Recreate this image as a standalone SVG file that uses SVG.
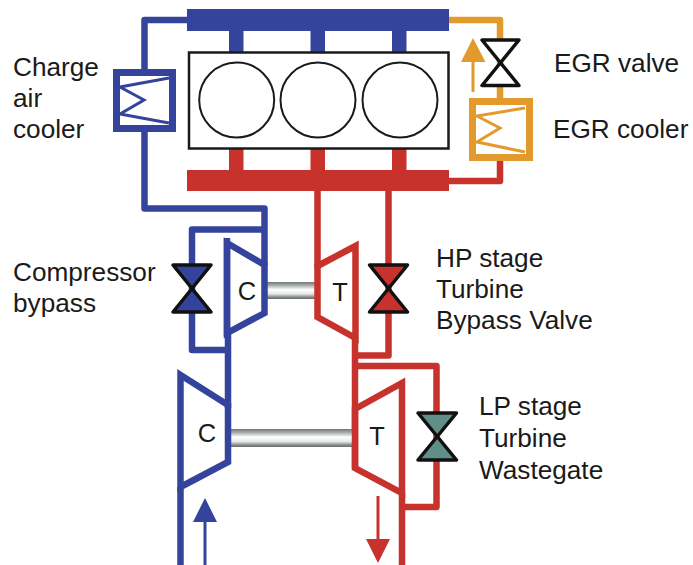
<svg xmlns="http://www.w3.org/2000/svg" width="693" height="565" viewBox="0 0 693 565">
<style>
.l{fill:none;stroke-linejoin:miter}
.c{fill:none;stroke-linejoin:round}
.b{stroke:#34449c;stroke-width:6.5}
.r{stroke:#c8322c;stroke-width:6.5}
.o{stroke:#e39a2d;stroke-width:6.5}
.v{stroke:#111;stroke-width:3.5;stroke-linejoin:round}
text{font-family:"Liberation Sans",Arial,sans-serif;font-size:26.200px;fill:#1a1a1a}
.m{font-size:25.500px}
</style>
<defs>
<linearGradient id="s" x1="0" y1="0" x2="0" y2="1">
<stop offset="0" stop-color="#6f7773"/><stop offset=".2" stop-color="#a9adab"/><stop offset=".45" stop-color="#fff"/><stop offset=".7" stop-color="#e6e8e6"/><stop offset=".9" stop-color="#7f8583"/><stop offset="1" stop-color="#6a706e"/>
</linearGradient>
</defs>
<rect width="693" height="565" fill="#fff"/>
<g id="connectors">
<path class="c b" d="M190 20H144.500V72M144.500 130V208.500H264.500V265M264.500 229.500H192V350H228M228 333V408M180.500 487V565"/>
<path class="c r" d="M317.500 188V268M388.500 188V355.500H355M355 338V468M355 366H436.500V507H402M402 493V565M500 158V181H447"/>
<path class="c o" d="M447 20H500V100"/>
<path d="M205 520V565" stroke="#34449c" stroke-width="3" fill="none"/>
<path d="M378 496V542" stroke="#c8322c" stroke-width="3" fill="none"/>
<path d="M473 60V92" stroke="#e39a2d" stroke-width="3" fill="none"/>
<polygon points="205,498 217,522 193,522" fill="#34449c"/>
<polygon points="378,563 366,539 390,539" fill="#c8322c"/>
<polygon points="473,38 485.500,62 461,62" fill="#e39a2d"/>
</g>
<g id="intake-manifold">
<rect x="187" y="9" width="262" height="22" fill="#34449c"/>
<rect x="229" y="31" width="14.500" height="22" fill="#34449c"/><rect x="310.500" y="31" width="14.500" height="22" fill="#34449c"/><rect x="392" y="31" width="14.500" height="22" fill="#34449c"/>
</g>
<g id="exhaust-manifold">
<rect x="187" y="170" width="262" height="21" fill="#c8322c"/>
<rect x="229" y="148" width="14.500" height="23" fill="#c8322c"/><rect x="310.500" y="148" width="14.500" height="23" fill="#c8322c"/><rect x="392" y="148" width="14.500" height="23" fill="#c8322c"/>
</g>
<g id="engine">
<rect x="189" y="52.500" width="259.500" height="96" fill="#fff" stroke="#1a1a1a" stroke-width="2.500"/>
<circle cx="236.700" cy="100" r="37.500" fill="#fff" stroke="#1a1a1a" stroke-width="2"/>
<circle cx="318" cy="100" r="37.500" fill="#fff" stroke="#1a1a1a" stroke-width="2"/>
<circle cx="400" cy="100" r="37.500" fill="#fff" stroke="#1a1a1a" stroke-width="2"/>
</g>
<g id="charge-air-cooler">
<rect x="116.500" y="72.500" width="56" height="56" fill="#fff" stroke="#34449c" stroke-width="7"/>
<path d="M169 78L120 87L144 100L120 114L169 123" fill="none" stroke="#34449c" stroke-width="3"/>
<text x="13" y="76">Charge</text><text x="13" y="107">air</text><text x="13" y="138">cooler</text>
</g>
<g id="egr-cooler">
<rect x="472.500" y="101.500" width="57" height="56" fill="#fff" stroke="#e39a2d" stroke-width="7"/>
<path d="M525 108L477 116L500 128L477 142L525 152" fill="none" stroke="#e39a2d" stroke-width="3"/>
<text x="553" y="138">EGR cooler</text>
</g>
<g id="egr-valve">
<polygon class="v" points="482,40 519,40 482,85.500 519,85.500" fill="#fff"/>
<text x="554" y="72">EGR valve</text>
</g>
<g id="compressor-bypass">
<polygon class="v" points="173,265 211,265 173,312 211,312" fill="#34449c"/>
<text x="13" y="281">Compressor</text><text x="13" y="312">bypass</text>
</g>
<g id="hp-bypass-valve">
<polygon class="v" points="369.500,265 407.500,265 369.500,312 407.500,312" fill="#c8322c"/>
<text x="436" y="267">HP stage</text><text x="436" y="298">Turbine</text><text x="436" y="329">Bypass Valve</text>
</g>
<g id="lp-wastegate">
<polygon class="v" points="418,413 456.500,413 418,460 456.500,460" fill="#5f8f87"/>
<text x="479" y="415">LP stage</text><text x="479" y="447">Turbine</text><text x="479" y="479">Wastegate</text>
</g>
<g id="hp-shaft"><rect x="267" y="282" width="48" height="17" fill="url(#s)"/></g>
<g id="lp-shaft"><rect x="231" y="429" width="122" height="18" fill="url(#s)"/></g>
<g id="hp-compressor">
<polygon class="l b" points="227,243 264.500,265 264.500,313 227,333"/>
<path class="l b" d="M227 238V336"/>
<text class="m" x="247" y="300" text-anchor="middle">C</text>
</g>
<g id="hp-turbine">
<polygon class="l r" points="317.500,266 355.500,246 355.500,338 317.500,317"/>
<text class="m" x="340" y="300.500" text-anchor="middle">T</text>
</g>
<g id="lp-compressor">
<polygon class="l b" points="180.500,375 228,405 228,462 180.500,487"/>
<text class="m" x="207" y="442" text-anchor="middle">C</text>
</g>
<g id="lp-turbine">
<polygon class="l r" points="355,409 402,383 402,493 355,468"/>
<text class="m" x="377" y="445" text-anchor="middle">T</text>
</g>
</svg>
